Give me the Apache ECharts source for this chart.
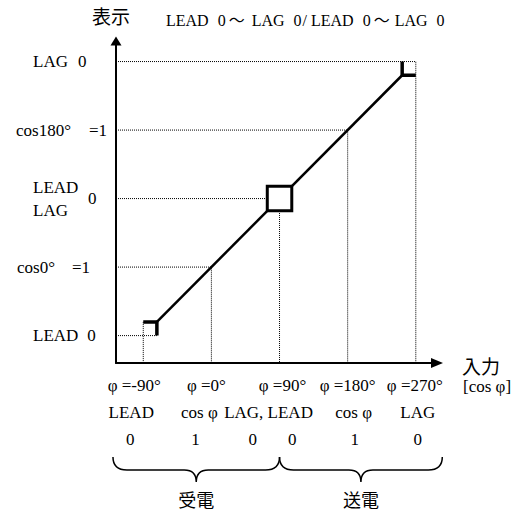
<!DOCTYPE html>
<html>
<head>
<meta charset="utf-8">
<script src="https://cdn.jsdelivr.net/npm/echarts@6/dist/echarts.min.js"></script>
<style>
html, body { margin: 0; padding: 0; background: #fff; }
#chart { width: 517px; height: 513px; }
</style>
</head>
<body>
<div id="chart"></div>
<script>
// 入力: phase angle (deg), 表示: level 0..4
var xTicks = [-90, 0, 90, 180, 270];
var yTicks = [0, 1, 2, 3, 4];
var xRow1 = ['φ =-90°', 'φ =0°', 'φ =90°', 'φ =180°', 'φ =270°'];
var xRow2 = ['LEAD', 'cos φ', 'LAG, LEAD', 'cos φ', 'LAG'];
var xRow3 = [['0'], ['1'], ['0', '0'], ['1'], ['0']];
var yLabels = [
  [['LEAD', '0']],
  [['cos0°', '=1']],
  [['LEAD'], ['0'], ['LAG']],
  [['cos180°', '=1']],
  [['LAG', '0']]
];
var titleWords = ['LEAD', '0', '～', 'LAG', '0', '/', 'LEAD', '0', '～', 'LAG', '0'];
var diagonal = [[-72, 0.2], [252, 3.8]];
var bracketLow = [[-90, 0.2], [-72, 0.2], [-72, 0]];
var bracketHigh = [[252, 4], [252, 3.8], [270, 3.8]];
var centerBox = [[90, 2]];
var guides = [
  [[-126, 0], [-72, 0]],
  [[-90, 0.2], [-90, -0.4]],
  [[-126, 1], [0, 1], [0, -0.4]],
  [[-126, 2], [90, 2], [90, -0.4]],
  [[-126, 3], [180, 3], [180, -0.4]],
  [[-126, 4], [270, 4], [270, -0.4]]
];
var braces = [[-130, 90], [90, 305]];
var braceLabels = ['受電', '送電'];

// text nudges (px); neighbouring label boxes must not overlap
var xShift = [[-9, -12, -13], [-5, -12, -16], [3, -11, -7], [0, 6, 7], [-1, 2, 2]];
var pairGap = 31;
var yPads = [[[25, 9]], [[9, 17]], [[25], [80], [25]], [[8, 18]], [[25, 10]]];
var titlePads = [0, 9, 3, 7, 9, 1, 4, 9, 3, 5, 9];

var serif = 'Liberation Serif, Noto Sans CJK JP, serif';
var cjk = 'Noto Sans CJK JP, sans-serif';

function tok(rich, text, l, r, lh, size) {
  l = Math.round(l || 0);
  r = Math.round(r || 0);
  var name = 's' + l + '_' + r + '_' + String(lh).replace('.', 'd') + '_' + size;
  if (!rich[name]) {
    rich[name] = {
      fontFamily: serif, fontSize: size, fontWeight: 'normal', color: '#000',
      lineHeight: lh, padding: [0, r, 0, l]
    };
  }
  return '{' + name + '|' + text + '}';
}

var xRich = {};
var xLabelText = xTicks.map(function (t, i) {
  var rows = [[xRow1[i]], [xRow2[i]], xRow3[i]];
  return rows.map(function (words, r) {
    var s = xShift[i][r];
    var first = s > 0 ? 2 * s : 0;
    var last = s < 0 ? -2 * s : 0;
    return words.map(function (w, k) {
      return tok(xRich, w, k === 0 ? first : pairGap, k === words.length - 1 ? last : 0, 27, 17);
    }).join('');
  }).join('\n');
});

var yRich = {};
var yLabelText = yTicks.map(function (t, i) {
  var lh = yLabels[i].length > 1 ? 11.5 : 20;
  return yLabels[i].map(function (words, r) {
    return words.map(function (w, k) {
      return tok(yRich, w, yPads[i][r][k], 0, lh, 17);
    }).join('');
  }).join('\n');
});

var titleRich = {};
var titleText = titleWords.map(function (w, k) {
  return tok(titleRich, w, titlePads[k], 0, 20, 16);
}).join('');

function renderBrace(params, api) {
  var a = api.coord([api.value(0), -0.4]);
  var b = api.coord([api.value(1), -0.4]);
  var y0 = a[1] + 94, y1 = a[1] + 107, y2 = a[1] + 119;
  var xl = a[0], xr = b[0], xc = (xl + xr) / 2, r = 14, rc = 12;
  var d = 'M' + xl + ' ' + y0 +
    ' Q' + xl + ' ' + y1 + ' ' + (xl + r) + ' ' + y1 +
    ' L' + (xc - rc) + ' ' + y1 +
    ' Q' + xc + ' ' + y1 + ' ' + xc + ' ' + y2 +
    ' Q' + xc + ' ' + y1 + ' ' + (xc + rc) + ' ' + y1 +
    ' L' + (xr - r) + ' ' + y1 +
    ' Q' + xr + ' ' + y1 + ' ' + xr + ' ' + y0;
  return {
    type: 'group',
    children: [
      { type: 'path', shape: { pathData: d }, style: { fill: 'none', stroke: '#000', lineWidth: 1.5 } },
      { type: 'text', style: { text: braceLabels[params.dataIndex], x: xc, y: a[1] + 136, align: 'center', verticalAlign: 'middle', fontFamily: cjk, fontSize: 18, fill: '#000' } }
    ]
  };
}

var chart = echarts.init(document.getElementById('chart'), null, { renderer: 'svg' });

var option = {
  animation: false,
  backgroundColor: '#fff',
  title: {
    text: titleText,
    left: 166,
    top: 10,
    padding: 0,
    textStyle: { fontWeight: 'normal', rich: titleRich }
  },
  grid: { left: 116, right: 80, top: 41, bottom: 150, outerBoundsMode: 'none' },
  xAxis: {
    type: 'value',
    min: -126,
    max: 298,
    name: '{a|入力}\n{b|[cos φ]}',
    nameLocation: 'end',
    nameGap: 25,
    nameTextStyle: {
      align: 'left',
      verticalAlign: 'middle',
      padding: [24, 0, 0, 0],
      rich: {
        a: { fontFamily: cjk, fontSize: 19, lineHeight: 23, color: '#000' },
        b: { fontFamily: serif, fontSize: 17, lineHeight: 20, color: '#000', padding: [0, 0, 0, 1] }
      }
    },
    axisLine: {
      onZero: false,
      lineStyle: { color: '#000', width: 2 },
      symbol: ['none', 'triangle'],
      symbolSize: [10, 12]
    },
    axisTick: { show: false },
    splitLine: { show: false },
    axisLabel: {
      customValues: xTicks,
      showMinLabel: true,
      showMaxLabel: true,
      hideOverlap: false,
      margin: 8.5,
      align: 'center',
      formatter: function (v) { return xLabelText[xTicks.indexOf(v)]; },
      rich: xRich
    }
  },
  yAxis: {
    type: 'value',
    min: -0.4,
    max: 4.3,
    name: '表示',
    nameLocation: 'end',
    nameGap: 16,
    nameTextStyle: { fontFamily: cjk, fontSize: 19, color: '#000', padding: [0, 10, 0, 0] },
    axisLine: {
      onZero: false,
      lineStyle: { color: '#000', width: 2 },
      symbol: ['none', 'triangle'],
      symbolSize: [11, 9]
    },
    axisTick: { show: false },
    splitLine: { show: false },
    axisLabel: {
      customValues: yTicks,
      showMinLabel: true,
      showMaxLabel: true,
      hideOverlap: false,
      margin: 108,
      align: 'left',
      formatter: function (v) { return yLabelText[yTicks.indexOf(v)]; },
      rich: yRich
    }
  },
  series: [
    {
      type: 'lines',
      coordinateSystem: 'cartesian2d',
      polyline: true,
      silent: true,
      data: guides.map(function (g) { return { coords: g }; }),
      lineStyle: { color: '#000', width: 1, type: [1, 1], opacity: 1 },
      z: 1
    },
    {
      type: 'line',
      data: diagonal,
      symbol: 'none',
      silent: true,
      lineStyle: { color: '#000', width: 2.5 },
      z: 3
    },
    {
      type: 'line',
      data: bracketLow,
      symbol: 'none',
      silent: true,
      lineStyle: { color: '#000', width: 3.5, join: 'miter' },
      z: 3
    },
    {
      type: 'line',
      data: bracketHigh,
      symbol: 'none',
      silent: true,
      lineStyle: { color: '#000', width: 3.5, join: 'miter' },
      z: 3
    },
    {
      type: 'scatter',
      data: centerBox,
      symbol: 'rect',
      symbolSize: 24.5,
      silent: true,
      itemStyle: { color: '#fff', borderColor: '#000', borderWidth: 3, opacity: 1 },
      z: 5
    },
    {
      type: 'custom',
      renderItem: renderBrace,
      data: braces,
      clip: false,
      silent: true,
      z: 1
    }
  ]
};

chart.setOption(option);
</script>
</body>
</html>
